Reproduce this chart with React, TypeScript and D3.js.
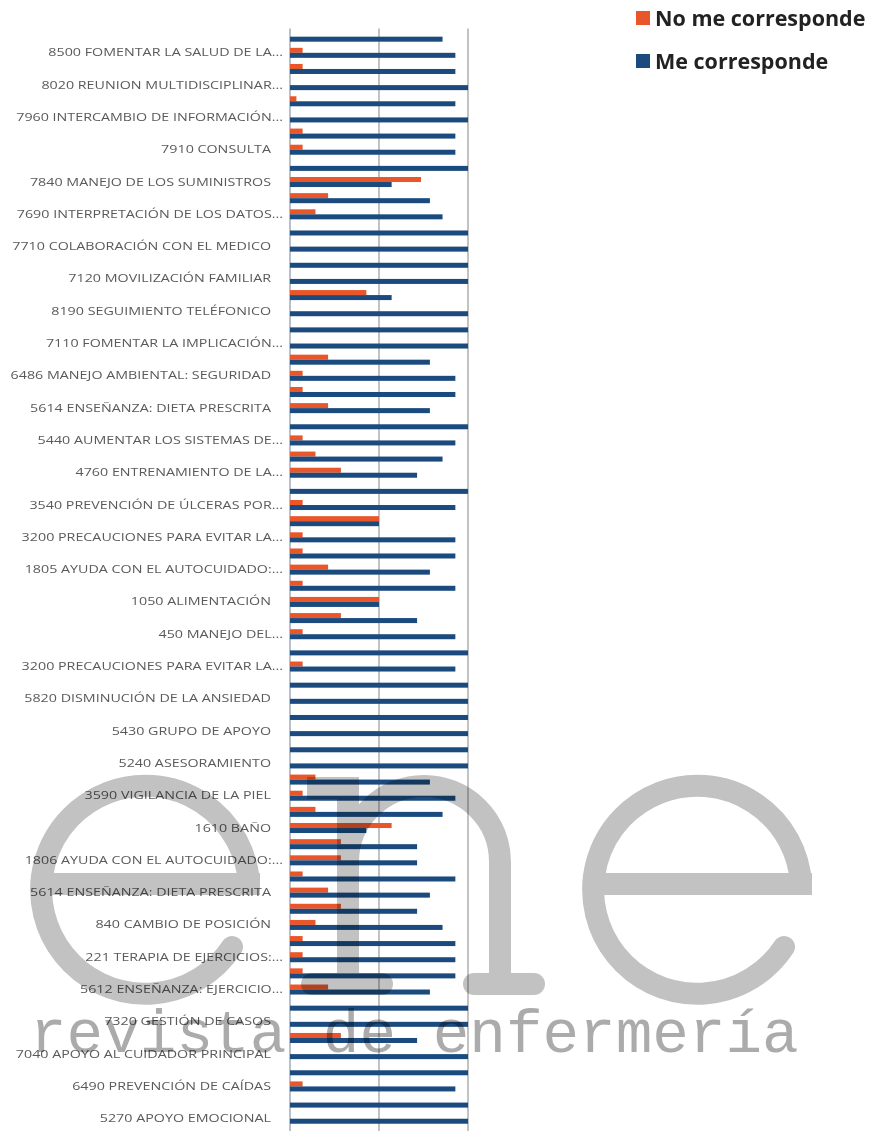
import React, { useEffect, useRef } from "react";
import * as d3 from "d3";

// category labels (Excel only shows every other one)
const categories = [
  "", "8500 FOMENTAR LA SALUD DE LA...", "", "8020 REUNION MULTIDISCIPLINAR...", "",
  "7960 INTERCAMBIO DE INFORMACIÓN...", "", "7910 CONSULTA", "", "7840 MANEJO DE LOS SUMINISTROS",
  "", "7690 INTERPRETACIÓN DE LOS DATOS...", "", "7710 COLABORACIÓN CON EL MEDICO", "",
  "7120 MOVILIZACIÓN FAMILIAR", "", "8190 SEGUIMIENTO TELÉFONICO", "", "7110 FOMENTAR LA IMPLICACIÓN...",
  "", "6486 MANEJO AMBIENTAL: SEGURIDAD", "", "5614 ENSEÑANZA: DIETA PRESCRITA", "",
  "5440 AUMENTAR LOS SISTEMAS DE...", "", "4760 ENTRENAMIENTO DE LA...", "", "3540 PREVENCIÓN DE ÚLCERAS POR...",
  "", "3200 PRECAUCIONES PARA EVITAR LA...", "", "1805 AYUDA CON EL AUTOCUIDADO:...", "",
  "1050 ALIMENTACIÓN", "", "450 MANEJO DEL...", "", "3200 PRECAUCIONES PARA EVITAR LA...",
  "", "5820 DISMINUCIÓN DE LA ANSIEDAD", "", "5430 GRUPO DE APOYO", "",
  "5240 ASESORAMIENTO", "", "3590 VIGILANCIA DE LA PIEL", "", "1610 BAÑO",
  "", "1806 AYUDA CON EL AUTOCUIDADO:...", "", "5614 ENSEÑANZA: DIETA PRESCRITA", "",
  "840 CAMBIO DE POSICIÓN", "", "221 TERAPIA DE EJERCICIOS:...", "", "5612 ENSEÑANZA: EJERCICIO...",
  "", "7320 GESTIÓN DE CASOS", "", "7040 APOYO AL CUIDADOR PRINCIPAL", "",
  "6490 PREVENCIÓN DE CAÍDAS", "", "5270 APOYO EMOCIONAL", ""
];

// % "No me corresponde"
const noMeCorresponde = [
  0, 7.1, 7.1, 0, 3.6, 0, 7.1, 7.1, 0, 73.6,
  21.4, 14.3, 0, 0, 0, 0, 42.9, 0, 0, 0,
  21.4, 7.1, 7.1, 21.4, 0, 7.1, 14.3, 28.6, 0, 7.1,
  50, 7.1, 7.1, 21.4, 7.1, 50, 28.6, 7.1, 0, 7.1,
  0, 0, 0, 0, 0, 0, 14.3, 7.1, 14.3, 57.1,
  28.6, 28.6, 7.1, 21.4, 28.6, 14.3, 7.1, 7.1, 7.1, 21.4,
  0, 0, 28.6, 0, 0, 7.1, 0, 0, 0
];

// % "Me corresponde"
const meCorresponde = [
  85.7, 92.9, 92.9, 100, 92.9, 100, 92.9, 92.9, 100, 57.1,
  78.6, 85.7, 100, 100, 100, 100, 57.1, 100, 100, 100,
  78.6, 92.9, 92.9, 78.6, 100, 92.9, 85.7, 71.4, 100, 92.9,
  50, 92.9, 92.9, 78.6, 92.9, 50, 71.4, 92.9, 100, 92.9,
  100, 100, 100, 100, 100, 100, 78.6, 92.9, 85.7, 42.9,
  71.4, 71.4, 92.9, 78.6, 71.4, 85.7, 92.9, 92.9, 92.9, 78.6,
  100, 100, 71.4, 100, 100, 92.9, 100, 100, 100
];

const series = ["No me corresponde", "Me corresponde"];
const colors = ["#e8562a", "#1a4a7e"];
const gridTicks = [0, 50, 100];

export default function App() {
  const ref = useRef<SVGSVGElement>(null);

  useEffect(() => {
    const width = 881, height = 1139;
    const svg = d3.select(ref.current);
    svg.selectAll("*").remove();
    svg.attr("width", width).attr("height", height);

    const left = 290, right = 468, top = 28.6, step = 16.15;

    const x = d3.scaleLinear().domain([0, 100]).range([left, right]);
    const idx = categories.map((_, i) => i);
    const y = d3.scaleBand<number>()
      .domain(idx)
      .range([top, top + idx.length * step])
      .paddingInner(0.38)
      .paddingOuter(0.19);
    const ySub = d3.scaleBand<string>().domain(series).range([0, y.bandwidth()]);

    // grid lines
    svg.append("g").selectAll("line").data(gridTicks).enter().append("line")
      .attr("x1", d => x(d)).attr("x2", d => x(d))
      .attr("y1", top).attr("y2", height)
      .attr("stroke", d => d === 0 ? "#8c96a8" : "#9a9a9a")
      .attr("stroke-width", 1.2);

    // bars
    const rows = idx.map(i => ({ i, vals: [noMeCorresponde[i], meCorresponde[i]] }));
    const g = svg.append("g").selectAll("g").data(rows).enter().append("g")
      .attr("transform", d => "translate(0," + y(d.i) + ")");
    g.selectAll("rect").data(d => d.vals.map((v, k) => ({ v, k }))).enter().append("rect")
      .attr("x", x(0))
      .attr("y", d => ySub(series[d.k]) as number)
      .attr("width", d => x(d.v) - x(0))
      .attr("height", ySub.bandwidth())
      .attr("fill", d => colors[d.k]);

    // category labels
    svg.append("g").selectAll("g").data(rows.filter(d => categories[d.i] !== "")).enter()
      .append("g")
      .attr("transform", d => {
        const lx = categories[d.i].endsWith("...") ? 283 : 271;
        return "translate(" + lx + "," + ((y(d.i) as number) + y.bandwidth() / 2) + ") scale(1.43,1)";
      })
      .append("text")
      .attr("text-anchor", "end")
      .attr("dy", "0.35em")
      .attr("font-family", "Open Sans")
      .attr("font-size", 10)
      .attr("fill", "#5a5a5a")
      .text(d => categories[d.i]);

    // legend
    const lg = svg.append("g").selectAll("g").data(series).enter().append("g")
      .attr("transform", (d, k) => "translate(636," + (18 + k * 43) + ")");
    lg.append("rect").attr("x", 0).attr("y", -7).attr("width", 14).attr("height", 14)
      .attr("fill", (d, k) => colors[k]);
    lg.append("text").attr("x", 19).attr("dy", "0.36em")
      .attr("font-family", "Open Sans").attr("font-weight", 700).attr("font-size", 21.5)
      .attr("fill", "#222").text(d => d);

    // watermark "ene / revista de enfermería"
    const wm = svg.append("g").style("mix-blend-mode", "multiply");
    const strokes = wm.append("g").attr("fill", "none").attr("stroke", "#c2c2c2")
      .attr("stroke-width", 22);
    const eShape = (cx: number) => {
      const r = 104;
      strokes.append("path")
        .attr("stroke-linecap", "round")
        .attr("d", "M " + (cx + r) + " 884 A " + r + " " + r + " 0 1 0 " + (cx + 87) + " 947");
      wm.append("rect").attr("x", cx - 112).attr("y", 873).attr("width", 227).attr("height", 22)
        .attr("fill", "#c2c2c2");
    };
    eShape(145);
    eShape(697);
    // "n" with serifs
    strokes.append("path").attr("d", "M 348 984 V 788 M 348 862 A 76 76 0 0 1 500 862 V 984");
    strokes.append("path").attr("stroke-linecap", "round")
      .attr("d", "M 312 984 H 382 M 474 984 H 534");
    wm.append("rect").attr("x", 307).attr("y", 777).attr("width", 52).attr("height", 22)
      .attr("fill", "#c2c2c2");
    wm.append("text").attr("x", 30).attr("y", 1052)
      .attr("font-family", "Liberation Mono").attr("font-size", 61)
      .attr("fill", "#ababab")
      .text("revista de enfermería");
  }, []);

  return <svg ref={ref} style={{ display: "block", margin: "-8px" }} />;
}
